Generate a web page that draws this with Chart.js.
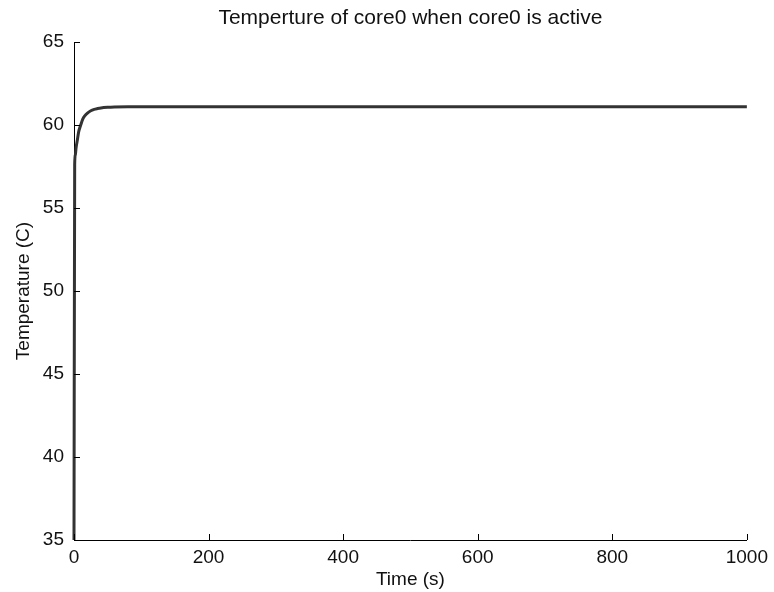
<!DOCTYPE html>
<html>
<head>
<meta charset="utf-8">
<title>Temperture of core0</title>
<script src="https://cdn.jsdelivr.net/npm/chart.js@4.4.0/dist/chart.umd.min.js"></script>
<style>
  html, body { margin: 0; padding: 0; background: #fff; }
  #wrap { width: 774px; height: 592px; }
</style>
</head>
<body>
<div id="wrap"><canvas id="core-chart" width="774" height="592"></canvas></div>
<script>
// time (s) and temperature (C)
var time_s = [0, 1, 2, 3, 5, 7, 10, 13, 16, 20, 25, 30, 35, 40, 50, 60, 80, 100, 200, 300, 400, 500, 600, 700, 800, 900, 1000];
var temp_c = [35, 57.6, 58.2, 58.6, 59.1, 59.6, 60.0, 60.35, 60.55, 60.72, 60.86, 60.94, 60.99, 61.03, 61.07, 61.09, 61.1, 61.1, 61.1, 61.1, 61.1, 61.1, 61.1, 61.1, 61.1, 61.1, 61.1];
var x_ticks = [0, 200, 400, 600, 800, 1000];
var y_ticks = [35, 40, 45, 50, 55, 60, 65];

var fam = '"Liberation Sans", Arial, Helvetica, sans-serif';

// matlab style ticks pointing inwards
var inwardTicks = {
	id: 'inwardTicks',
	afterDraw: function(chart)
	{
		var ctx = chart.ctx;
		var xs = chart.scales.x, ys = chart.scales.y;
		ctx.save();
		ctx.strokeStyle = '#000';
		ctx.lineWidth = 1;
		ctx.beginPath();
		x_ticks.forEach(function(t) {
			var px = Math.round(xs.getPixelForValue(t)) + 0.5;
			ctx.moveTo(px, ys.bottom);
			ctx.lineTo(px, ys.bottom - 6);
		});
		y_ticks.forEach(function(t) {
			var py = Math.round(ys.getPixelForValue(t)) + 0.5;
			ctx.moveTo(xs.left, py);
			ctx.lineTo(xs.left + 6, py);
		});
		ctx.stroke();
		ctx.restore();
	}
};

new Chart(document.getElementById("core-chart"),
{
	type: 'line',
	data:
	{
		datasets:
		[{
			label: "core0",
			data: time_s.map(function(t, i) { return {x: t, y: temp_c[i]}; }),
			borderColor: "#333333",
			borderWidth: 3,
			pointRadius: 0,
			fill: false,
			cubicInterpolationMode: 'monotone',
			clip: false
		}]
	},
	options:
	{
		responsive: false,
		animation: false,
		layout: { padding: { left: 0, right: 26, top: 0, bottom: 0 } },
		plugins:
		{
			legend: { display: false },
			tooltip: { enabled: false },
			title:
			{
				display: true,
				text: 'Temperture of core0 when core0 is active',
				fullSize: false,
				color: '#111',
				font: { family: fam, size: 21, weight: 'normal', lineHeight: 1.2 },
				padding: { top: 6, bottom: 10.8 }
			}
		},
		scales:
		{
			x:
			{
				type: 'linear',
				min: 0,
				max: 1000,
				grid: { display: false, drawTicks: false },
				border: { display: true, color: '#000', width: 1 },
				ticks:
				{
					stepSize: 200,
					padding: 6,
					color: '#111',
					maxRotation: 0,
					font: { family: fam, size: 19, lineHeight: 1.2 },
					callback: function(value) { return String(value); }
				},
				title:
				{
					display: true,
					text: 'Time (s)',
					color: '#111',
					font: { family: fam, size: 19, lineHeight: 1.2 },
					padding: { top: 0, bottom: 1 }
				},
				afterFit: function(scale) { scale.height = 52; }
			},
			y:
			{
				min: 35,
				max: 65,
				grid: { display: false, drawTicks: false },
				border: { display: true, color: '#000', width: 1 },
				ticks:
				{
					stepSize: 5,
					padding: 10,
					color: '#111',
					font: { family: fam, size: 19, lineHeight: 1.2 }
				},
				title:
				{
					display: true,
					text: 'Temperature (C)',
					color: '#111',
					font: { family: fam, size: 19, lineHeight: 1.2 },
					padding: { top: 12, bottom: 0 }
				},
				afterFit: function(scale) { scale.width = 74; }
			}
		}
	},
	plugins: [inwardTicks]
});
</script>
</body>
</html>
